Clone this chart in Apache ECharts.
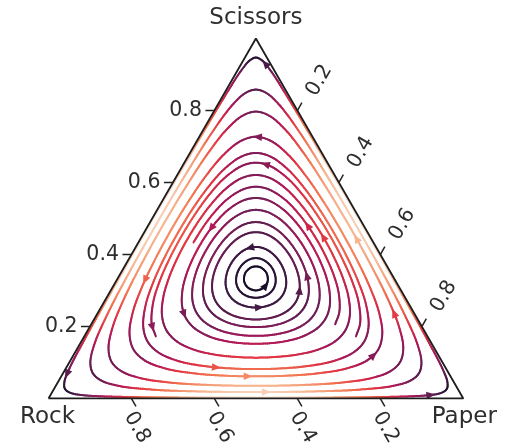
<!DOCTYPE html>
<html><head><meta charset="utf-8">
<script src="https://cdn.jsdelivr.net/npm/echarts@6/dist/echarts.min.js"></script>
</head>
<body style="margin:0;background:#fff">
<div id="chart" style="width:514px;height:446px"></div>
<script>
// ---- data (ternary points as [rock, paper, scissors]) ----
const cornerLabels = ['Rock', 'Paper', 'Scissors'];
const tickValues = [0.2, 0.4, 0.6, 0.8];
const tickLabels = ['0.2', '0.4', '0.6', '0.8'];

// each orbit: one sixth of a closed streamline, from its top crossing to its
// crossing of the line towards the middle of the Paper–Scissors edge
const orbit01 = [[.0265,.0265,.947],[.0157,.045,.9393],[.0091,.08,.9109],[.0050,.16,.835],[.0032,.3,.6968],[.0027,.4987,.4987]];
const orbit02 = [[.071,.071,.858],[.0509,.1,.8491],[.0354,.15,.8146],[.0245,.24,.7355],[.0194,.36,.6206],[.0179,.491,.491]];
const orbit03 = [[.1015,.1015,.797],[.0747,.14,.7853],[.0551,.2,.7449],[.0433,.28,.6767],[.0371,.38,.5829],[.0353,.4824,.4824]];
const orbit04 = [[.1365,.1365,.727],[.1053,.18,.7147],[.0834,.24,.6766],[.0705,.31,.6195],[.0636,.39,.5464],[.0615,.4692,.4692]];
const orbit05 = [[.159,.159,.682],[.1284,.2,.6716],[.1043,.26,.6357],[.0901,.33,.5799],[.0834,.4,.5166],[.0818,.4591,.4591]];
const orbit06 = [[.1725,.1725,.655],[.1436,.21,.6464],[.1179,.27,.6121],[.1044,.33,.5656],[.0975,.39,.5125],[.0952,.4524,.4524]];
const orbit07 = [[.1895,.1895,.621],[.1586,.23,.6114],[.1365,.28,.5835],[.1228,.335,.5422],[.1157,.39,.4943],[.1135,.4433,.4433]];
const orbit08 = [[.206,.206,.588],[.1789,.24,.5811],[.155,.29,.555],[.1415,.34,.5185],[.1346,.39,.4754],[.1327,.4337,.4337]];
const orbit09 = [[.2215,.2215,.557],[.1948,.255,.5502],[.1728,.3,.5272],[.16,.345,.495],[.1535,.39,.4565],[.1521,.424,.424]];
const orbit10 = [[.238,.238,.524],[.2124,.27,.5176],[.1924,.31,.4976],[.1807,.35,.4693],[.1753,.385,.4397],[.1741,.413,.413]];
const orbit11 = [[.255,.255,.49],[.2309,.285,.4841],[.2134,.32,.4666],[.2042,.35,.4458],[.1995,.378,.4225],[.1983,.4009,.4009]];
const orbit12 = [[.269,.269,.462],[.2479,.295,.4571],[.2324,.325,.4426],[.2245,.35,.4255],[.2206,.372,.4074],[.2195,.3903,.3903]];
const orbit13 = [[.2895,.2895,.421],[.2728,.31,.4172],[.2621,.33,.4079],[.2555,.35,.3945],[.2534,.362,.3846],[.2527,.3737,.3737]];
const orbit14 = [[.305,.305,.39],[.2928,.32,.3872],[.285,.335,.38],[.281,.348,.371],[.2797,.3602,.3602]];
const orbit15 = [[.3165,.3165,.367],[.3073,.328,.3647],[.302,.34,.358],[.3,.35,.35]];

// which sixths of each streamline are drawn (0 = top→upper right, going clockwise)
const orbitParts = [[0,1,2,3,4,5],[0,1,2,3,4,5],[0,1,2,3,4,5],[0,1,2,3,4,5],[0,1,2,3,4,5],
                    [4,5,0,1],[0,1,2,3,4,5],[5,0,1],[0,1,2,3,4,5],[0,1,2,3,4,5],
                    [0,1,2,3,4,5],[0,1,2,3,4,5],[0,1,2,3,4,5],[0,1,2,3,4,5],[0,1,2,3,4,5]];

// arrow heads positions [rock, paper, scissors]
const arrowPoints = [[.007,.060,.933],[.1286,.1384,.733],[.1517,.1955,.6528],[.3673,.1605,.4722],
  [.3024,.2643,.4333],[.1341,.3853,.4806],[.1132,.4368,.45],[.0464,.5147,.4389],
  [.1973,.4583,.3444],[.2413,.4587,.3],[.318,.3764,.3056],[.362,.3769,.2611],
  [.601,.0712,.3278],[.5835,.1887,.2278],[.6543,.1485,.1972],[.922,.0113,.0667],
  [.5555,.3584,.0861],[.495,.4522,.0528],[.4697,.5136,.0167],[.1593,.724,.1167],
  [.0452,.7159,.2389],[.0719,.9114,.0167]];

const orbits = [orbit01,orbit02,orbit03,orbit04,orbit05,orbit06,orbit07,orbit08,
                orbit09,orbit10,orbit11,orbit12,orbit13,orbit14,orbit15];

// ---- helpers ----
const H = Math.sqrt(3) / 2;
function toXY(t) { return [t[1] + t[2] / 2, t[2] * H]; }
const PERM = [
  t => [t[0], t[1], t[2]], t => [t[0], t[2], t[1]], t => [t[1], t[2], t[0]],
  t => [t[2], t[1], t[0]], t => [t[2], t[0], t[1]], t => [t[1], t[0], t[2]]
];
function buildPath(arc, parts) {
  let pts = [];
  parts.forEach(k => {
    let a = arc.map(PERM[k]);
    if (k % 2 === 1) a.reverse();
    if (pts.length) a = a.slice(1);
    pts = pts.concat(a);
  });
  const closed = parts.length === 6;
  if (closed) pts.pop();
  return { pts: pts.map(toXY), closed };
}
function sampleCR(P, closed, step) {
  const n = P.length;
  const get = i => {
    if (closed) return P[((i % n) + n) % n];
    if (i < 0) return [2 * P[0][0] - P[1][0], 2 * P[0][1] - P[1][1]];
    if (i >= n) return [2 * P[n - 1][0] - P[n - 2][0], 2 * P[n - 1][1] - P[n - 2][1]];
    return P[i];
  };
  const segs = closed ? n : n - 1;
  const out = [];
  const kd = (a, b) => Math.max(1e-6, Math.sqrt(Math.hypot(b[0] - a[0], b[1] - a[1])));
  const lerp = (a, b, ta, tb, t) => { const w = (t - ta) / (tb - ta); return [a[0] + (b[0] - a[0]) * w, a[1] + (b[1] - a[1]) * w]; };
  for (let i = 0; i < segs; i++) {
    const p0 = get(i - 1), p1 = get(i), p2 = get(i + 1), p3 = get(i + 2);
    const t0 = 0, t1 = t0 + kd(p0, p1), t2 = t1 + kd(p1, p2), t3 = t2 + kd(p2, p3);
    const len = Math.hypot(p2[0] - p1[0], p2[1] - p1[1]);
    const m = Math.max(2, Math.ceil(len / step));
    for (let j = 0; j < m; j++) {
      const t = t1 + (t2 - t1) * j / m;
      const A1 = lerp(p0, p1, t0, t1, t), A2 = lerp(p1, p2, t1, t2, t), A3 = lerp(p2, p3, t2, t3, t);
      const B1 = lerp(A1, A2, t0, t2, t), B2 = lerp(A2, A3, t1, t3, t);
      out.push(lerp(B1, B2, t1, t2, t));
    }
  }
  out.push(closed ? out[0] : P[n - 1]);
  return out;
}
const samples = orbits.map((o, i) => { const b = buildPath(o, orbitParts[i]); return sampleCR(b.pts, b.closed, 0.005); });

const CMAP = [[0,[3,5,26]],[0.143,[53,25,62]],[0.286,[112,31,87]],[0.429,[173,23,89]],
              [0.571,[225,51,66]],[0.714,[243,118,81]],[0.857,[246,180,143]],[1,[250,235,221]]];
function cmap(v) {
  v = Math.min(1, Math.max(0, v));
  for (let i = 1; i < CMAP.length; i++) {
    if (v <= CMAP[i][0]) {
      const a = CMAP[i - 1], b = CMAP[i], w = (v - a[0]) / (b[0] - a[0]);
      return 'rgb(' + a[1].map((c, k) => Math.round(c + (b[1][k] - c) * w)).join(',') + ')';
    }
  }
  return 'rgb(250,235,221)';
}
// colour = speed of the flow (rock-paper-scissors replicator field)
function speedAt(q) {
  const s = q[1] / H, p = q[0] - s / 2, r = 1 - p - s;
  const dr = r * (s - p), dp = p * (r - s), ds = s * (p - r);
  const dx = dp + ds / 2, dy = ds * H;
  return Math.hypot(dx, dy) / 0.25;
}

const FONT = 'DejaVu Sans';
const TXT = '#2e2e2e';
const chart = echarts.init(document.getElementById('chart'), null, { renderer: 'canvas' });

function tickSeries(name, edgeFn, dir, labelOff, rot, align) {
  return {
    type: 'custom', name, coordinateSystem: 'cartesian2d', z: 6, silent: true,
    data: tickValues.map(v => toXY(edgeFn(v))),
    renderItem(params, api) {
      const a = api.coord([api.value(0), api.value(1)]);
      const L = 9;
      return { type: 'group', children: [
        { type: 'line', shape: { x1: a[0], y1: a[1], x2: a[0] + dir[0] * L, y2: a[1] + dir[1] * L },
          style: { stroke: '#222', lineWidth: 1.5 } },
        { type: 'text', x: a[0] + labelOff[0], y: a[1] + labelOff[1], rotation: rot,
          style: { text: tickLabels[params.dataIndex], fontSize: 20.5, fontFamily: FONT, fill: TXT,
                   align: align, verticalAlign: 'middle' } }
      ] };
    }
  };
}

const corners = [[1, 0, 0], [0, 1, 0], [0, 0, 1]];
const cornerOffsets = [[-1, 19], [1, 19], [0, -20.5]];

chart.setOption({
  animation: false,
  backgroundColor: '#fff',
  grid: { left: 48.5, top: 38.5, width: 414.8, height: 360 },
  xAxis: { type: 'value', min: 0, max: 1, show: false },
  yAxis: { type: 'value', min: 0, max: H, show: false },
  series: [
    {
      type: 'custom', name: 'streamlines', coordinateSystem: 'cartesian2d', z: 2, silent: true, clip: false,
      data: orbits.map(o => toXY(o[0])),
      renderItem(params, api) {
        const S = samples[params.dataIndex];
        const px = S.map(q => api.coord(q));
        const children = [];
        for (let k = 0; k < S.length - 1; k++) {
          const mid = [(S[k][0] + S[k + 1][0]) / 2, (S[k][1] + S[k + 1][1]) / 2];
          children.push({ type: 'line', silent: true,
            shape: { x1: px[k][0], y1: px[k][1], x2: px[k + 1][0], y2: px[k + 1][1] },
            style: { stroke: cmap(speedAt(mid)), lineWidth: 2, lineCap: 'round' } });
        }
        return { type: 'group', children };
      }
    },
    {
      type: 'custom', name: 'arrows', coordinateSystem: 'cartesian2d', z: 3, silent: true, clip: false,
      data: arrowPoints.map(toXY),
      renderItem(params, api) {
        const q = [api.value(0), api.value(1)];
        let bd = 1e9, bo = 0, bk = 0;
        samples.forEach((S, oi) => S.forEach((pt, k) => {
          const d = (pt[0] - q[0]) ** 2 + (pt[1] - q[1]) ** 2;
          if (d < bd) { bd = d; bo = oi; bk = k; }
        }));
        const S = samples[bo];
        const a = api.coord(S[bk]);
        const b = api.coord(S[Math.min(bk + 1, S.length - 1)]);
        const c = api.coord(S[Math.max(bk - 1, 0)]);
        let dx = c[0] - b[0], dy = c[1] - b[1];
        const L = Math.hypot(dx, dy) || 1; dx /= L; dy /= L;
        const len = 9, w = 3.8;
        const tip = [a[0] + dx * len * 0.55, a[1] + dy * len * 0.55];
        const base = [a[0] - dx * len * 0.45, a[1] - dy * len * 0.45];
        return { type: 'polygon', silent: true,
          shape: { points: [tip, [base[0] - dy * w, base[1] + dx * w], [base[0] + dy * w, base[1] - dx * w]] },
          style: { fill: cmap(speedAt(S[bk])) } };
      }
    },
    {
      type: 'line', name: 'outline', z: 5, silent: true, symbol: 'none',
      data: [corners[0], corners[1], corners[2], corners[0]].map(toXY),
      lineStyle: { color: '#1e1e1e', width: 1.8 }
    },
    tickSeries('Scissors ticks', v => [1 - v, 0, v], [-1, 0], [-12.5, 0], 0, 'right'),
    tickSeries('Paper ticks', v => [0, v, 1 - v], [0.5, -H], [22, -30], Math.PI / 3, 'center'),
    tickSeries('Rock ticks', v => [v, 1 - v, 0], [0.5, H], [5.5, 29], -Math.PI / 3, 'center'),
    {
      type: 'custom', name: 'corner labels', coordinateSystem: 'cartesian2d', z: 6, silent: true, clip: false,
      data: corners.map(toXY),
      renderItem(params, api) {
        const a = api.coord([api.value(0), api.value(1)]);
        const o = cornerOffsets[params.dataIndex];
        return { type: 'text', x: a[0] + o[0], y: a[1] + o[1],
          style: { text: cornerLabels[params.dataIndex], fontSize: 23, fontFamily: FONT, fill: TXT,
                   align: 'center', verticalAlign: 'middle' } };
      }
    }
  ]
});
</script>
</body></html>
